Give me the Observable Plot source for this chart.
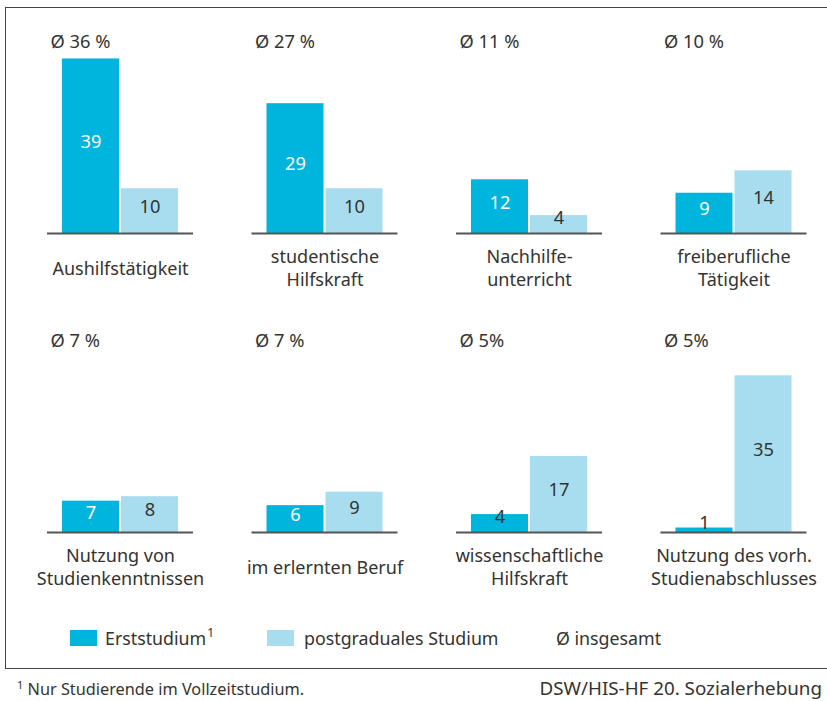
<!DOCTYPE html>
<html>
<head>
<meta charset="utf-8">
<script src="https://cdn.jsdelivr.net/npm/d3@7"></script>
<script src="https://cdn.jsdelivr.net/npm/@observablehq/plot@0.6"></script>
<style>
  html, body { margin: 0; padding: 0; background: #fff; }
  body { font-family: "Noto Sans", sans-serif; color: #333; }
  #wrap { position: relative; width: 827px; height: 701px; overflow: hidden; }
  #box { position: absolute; left: 5px; top: 7px; width: 830px; height: 662px;
         border-left: 1.5px solid #444; border-top: 1.5px solid #444; border-bottom: 1.5px solid #444; box-sizing: border-box; }
  #chart { position: absolute; left: 0; top: 0; }
  #legend { position: absolute; top: 626px; left: 0; width: 827px; height: 24px; font-size: 17.8px; }
  .sw { position: absolute; top: 4px; width: 27px; height: 16px; }
  .lt { position: absolute; top: 0; line-height: 24px; height: 24px; white-space: nowrap; }
  .lt sup { font-size: 12px; line-height: 0; vertical-align: baseline; position: relative; top: -8px; margin-left: 1px; }
  #fnl { position: absolute; left: 17px; top: 679px; font-size: 16.3px; line-height: 20px; height: 20px; white-space: nowrap; }
  #fnl sup { font-size: 11px; line-height: 0; vertical-align: baseline; position: relative; top: -6px; }
  #fnr { position: absolute; right: 5px; top: 677px; font-size: 18.8px; line-height: 22px; height: 22px; white-space: nowrap; }
</style>
</head>
<body>
<div id="wrap">
  <div id="box"></div>
  <div id="chart"></div>
  <div id="legend"></div>
  <div id="fnl"><sup>1</sup> Nur Studierende im Vollzeitstudium.</div>
  <div id="fnr">DSW/HIS-HF 20. Sozialerhebung</div>
</div>
<script>
const categories = ["Aushilfstätigkeit", "studentische\nHilfskraft", "Nachhilfe-\nunterricht", "freiberufliche\nTätigkeit",
  "Nutzung von\nStudienkenntnissen", "im erlernten Beruf", "wissenschaftliche\nHilfskraft", "Nutzung des vorh.\nStudienabschlusses"];
const erststudium = [39, 29, 12, 9, 7, 6, 4, 1];
const postgradual = [10, 10, 4, 14, 8, 9, 17, 35];
const averages = ["Ø 36 %", "Ø 27 %", "Ø 11 %", "Ø 10 %", "Ø 7 %", "Ø 7 %", "Ø 5%", "Ø 5%"];
const seriesNames = ["Erststudium", "postgraduales Studium"];
const seriesColors = ["#00b5dd", "#a8ddef"];

const panels = categories.map((c, i) => ({cat: c, avg: averages[i], col: i % 4, row: Math.floor(i / 4)}));
const bars = [];
panels.forEach((p, i) => {
  bars.push({...p, series: seriesNames[0], value: erststudium[i]});
  bars.push({...p, series: seriesNames[1], value: postgradual[i]});
});

const FONT = "Noto Sans, sans-serif";
const FS = 18.3;
const FS_CAT = 18;

const plot = Plot.plot({
  width: 827,
  height: 600,
  marginLeft: 47,
  marginRight: 20.5,
  marginTop: 45,
  marginBottom: 68,
  style: {fontFamily: FONT, fontSize: FS + "px", color: "#333", background: "transparent"},
  fx: {domain: [0, 1, 2, 3], paddingInner: 0.286, paddingOuter: 0, round: false, axis: null},
  fy: {domain: [0, 1], paddingInner: 0.3712, paddingOuter: 0, round: false, axis: null},
  x: {domain: seriesNames, paddingInner: 0, paddingOuter: 0.237, round: false, axis: null},
  y: {domain: [0, 42], axis: null},
  color: {domain: seriesNames, range: seriesColors},
  marks: [
    Plot.barY(bars, {fx: "col", fy: "row", x: "series", y: "value", fill: "series", insetLeft: 1, insetRight: 1}),
    Plot.ruleY(panels, {fx: "col", fy: "row", y: 0, stroke: "#555", strokeWidth: 2}),
    Plot.text(bars, {
      fx: "col", fy: "row", x: "series",
      y: d => d.value < 6 ? d.value / 2 + 0.6 : d.value / 2,
      dy: -4,
      text: d => String(d.value),
      fill: d => (d.series === seriesNames[0] && d.value >= 6) ? "#fff" : "#333",
      fontSize: FS, fontFamily: FONT
    }),
    Plot.text(panels, {fx: "col", fy: "row", text: "avg", frameAnchor: "top-left", dx: 3, dy: -3.5,
      lineAnchor: "middle", fill: "#333", fontSize: FS, fontFamily: FONT}),
    Plot.text(panels, {fx: "col", fy: "row", text: "cat", frameAnchor: "bottom", dy: 34,
      lineAnchor: "middle", lineHeight: 22.5 / FS_CAT, fill: "#333", fontSize: FS_CAT, fontFamily: FONT})
  ]
});
document.getElementById("chart").appendChild(plot);

const legend = document.getElementById("legend");
const legendItems = [
  {swatch: seriesColors[0], x: 70, text: "Erststudium<sup>1</sup>", tx: 105},
  {swatch: seriesColors[1], x: 267, text: "postgraduales Studium", tx: 304},
  {swatch: null, x: 0, text: "Ø insgesamt", tx: 556}
];
legendItems.forEach(it => {
  if (it.swatch) {
    const s = document.createElement("div");
    s.className = "sw"; s.style.left = it.x + "px"; s.style.background = it.swatch;
    legend.appendChild(s);
  }
  const t = document.createElement("div");
  t.className = "lt"; t.style.left = it.tx + "px"; t.innerHTML = it.text;
  legend.appendChild(t);
});
</script>
</body>
</html>
